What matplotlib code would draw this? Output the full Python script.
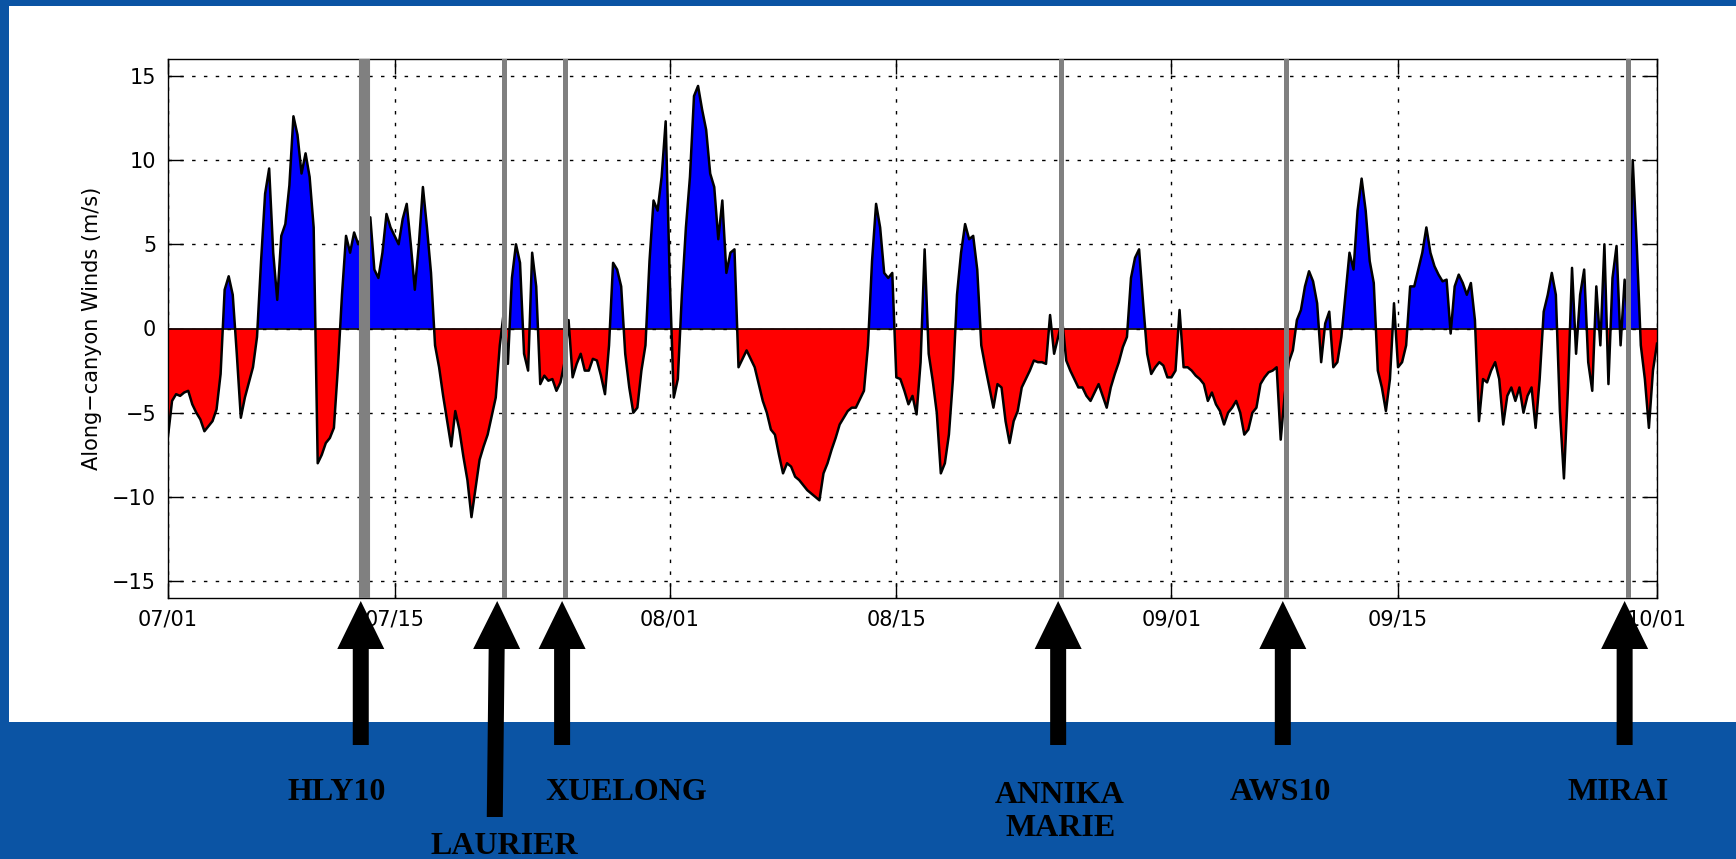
import matplotlib.pyplot as plt
import matplotlib.transforms as mtransforms
from matplotlib.patches import Polygon, Rectangle
import numpy as np

plt.rc('font', family='DejaVu Sans', size=15)

# along-canyon wind (m/s), 4 samples a day, 07/01 00:00 -> 10/01 00:00
wind = [
    -6.4, -4.3, -3.9, -4.0,
    -3.8, -3.7, -4.5, -5.0,
    -5.4, -6.1, -5.8, -5.5,
    -4.8, -2.7, 2.3, 3.1,
    2.0, -1.5, -5.3, -4.1,
    -3.2, -2.3, -0.5, 4.0,
    8.0, 9.5, 4.5, 1.7,
    5.5, 6.2, 8.5, 12.6,
    11.5, 9.2, 10.4, 9.0,
    6.0, -8.0, -7.5, -6.8,
    -6.5, -5.9, -2.3, 2.0,
    5.5, 4.5, 5.7, 5.0,
    5.5, 6.0, 6.6, 3.5,
    3.0, 4.5, 6.8, 6.0,
    5.5, 5.0, 6.5, 7.4,
    5.0, 2.3, 5.0, 8.4,
    6.0, 3.3, -1.0, -2.3,
    -4.0, -5.5, -7.0, -4.9,
    -6.0, -7.6, -9.0, -11.2,
    -9.5, -7.8, -7.0, -6.3,
    -5.2, -4.1, -1.0, 1.0,
    -2.1, 3.0, 5.0, 3.9,
    -1.5, -2.5, 4.5, 2.5,
    -3.3, -2.8, -3.1, -3.0,
    -3.7, -3.2, -2.0, 0.5,
    -2.9, -2.1, -1.5, -2.5,
    -2.5, -1.8, -1.9, -2.8,
    -3.9, -1.0, 3.9, 3.5,
    2.5, -1.5, -3.5, -5.0,
    -4.7, -2.5, -1.0, 4.0,
    7.6, 7.0, 9.0, 12.3,
    3.0, -4.1, -3.0, 2.0,
    6.0, 9.0, 13.8, 14.4,
    13.0, 11.8, 9.2, 8.4,
    5.3, 7.6, 3.3, 4.5,
    4.7, -2.3, -1.8, -1.3,
    -1.8, -2.3, -3.3, -4.3,
    -5.0, -6.0, -6.3, -7.5,
    -8.6, -8.0, -8.2, -8.8,
    -9.0, -9.3, -9.6, -9.8,
    -10.0, -10.2, -8.6, -8.0,
    -7.2, -6.5, -5.7, -5.3,
    -4.9, -4.7, -4.7, -4.2,
    -3.7, -1.0, 4.0, 7.4,
    6.0, 3.3, 3.0, 3.3,
    -2.9, -3.0, -3.7, -4.5,
    -4.0, -5.1, -2.0, 4.7,
    -1.5, -3.1, -5.0, -8.6,
    -8.0, -6.3, -3.0, 2.0,
    4.5, 6.2, 5.3, 5.5,
    3.5, -1.0, -2.3, -3.5,
    -4.7, -3.3, -3.5, -5.5,
    -6.8, -5.5, -4.9, -3.5,
    -3.0, -2.5, -1.9, -2.0,
    -2.0, -2.1, 0.8, -1.5,
    -0.5, 0.5, -1.9, -2.5,
    -3.0, -3.5, -3.5, -4.0,
    -4.3, -3.8, -3.3, -4.0,
    -4.7, -3.5, -2.7, -2.0,
    -1.1, -0.5, 3.0, 4.2,
    4.7, 1.5, -1.5, -2.7,
    -2.3, -2.0, -2.2, -2.9,
    -2.9, -2.5, 1.1, -2.3,
    -2.3, -2.5, -2.8, -3.0,
    -3.3, -4.3, -3.8, -4.5,
    -4.9, -5.7, -5.0, -4.7,
    -4.3, -5.0, -6.3, -6.0,
    -5.0, -4.7, -3.3, -2.9,
    -2.6, -2.5, -2.3, -6.6,
    -3.9, -2.0, -1.3, 0.5,
    1.1, 2.5, 3.4, 2.8,
    1.5, -2.0, 0.3, 1.0,
    -2.3, -2.0, -0.5, 2.0,
    4.5, 3.5, 7.0, 8.9,
    7.0, 4.0, 2.7, -2.5,
    -3.5, -4.9, -3.0, 1.5,
    -2.3, -2.0, -1.0, 2.5,
    2.5, 3.5, 4.5, 6.0,
    4.5, 3.7, 3.2, 2.8,
    2.9, -0.3, 2.5, 3.2,
    2.7, 2.0, 2.7, 0.5,
    -5.5, -3.0, -3.2, -2.5,
    -2.0, -3.0, -5.7, -4.0,
    -3.5, -4.3, -3.5, -5.0,
    -4.0, -3.5, -5.9, -3.0,
    1.0, 2.0, 3.3, 2.0,
    -4.9, -8.9, -3.5, 3.6,
    -1.5, 2.0, 3.5, -2.0,
    -3.7, 2.5, -1.0, 5.0,
    -3.3, 3.0, 4.9, -1.0,
    2.9, 0.0, 10.0, 4.9,
    -1.0, -3.0, -5.9, -2.5,
    -0.9,
]
step_days = 0.25

tick_days = [0, 14, 31, 45, 62, 76, 92]
tick_labels = ['07/01', '07/15', '08/01', '08/15', '09/01', '09/15', '10/01']
y_ticks = [-15, -10, -5, 0, 5, 10, 15]

# ship arrival times (days since 07/01)
ship_names = ['HLY10', 'LAURIER', 'XUELONG', 'ANNIKA\nMARIE', 'AWS10', 'MIRAI']
ship_days = [12.11, 20.74, 24.55, 55.2, 69.08, 90.2]

BLUE_BG = '#0b54a4'
W, H = 1736, 859


def draw_winds():
    fig = plt.figure(figsize=(W / 100, H / 100), dpi=100)
    fig.patch.set_facecolor(BLUE_BG)

    # white slide panel
    fig.add_artist(Rectangle((9 / W, 1 - 722 / H), 1 - 9 / W, (722 - 6) / H,
                             transform=fig.transFigure, facecolor='white',
                             edgecolor='none', zorder=-5))

    ax = fig.add_axes([168 / W, 1 - 598 / H, 1489 / W, 539 / H])
    ax.set_facecolor('white')

    t = np.arange(len(wind)) * step_days
    w = np.array(wind)
    ax.fill_between(t, w, 0, where=w >= 0, interpolate=True, color='#0000ff', lw=0, zorder=2)
    ax.fill_between(t, w, 0, where=w <= 0, interpolate=True, color='#ff0000', lw=0, zorder=2)
    ax.plot(t, w, color='black', lw=1.8, zorder=3)
    ax.axhline(0, color='black', lw=1.2, zorder=3)

    # ship lines
    for name, d in zip(ship_names, ship_days):
        lw = 8 if name == 'HLY10' else 3.6
        ax.axvline(d, color='#808080', lw=lw, zorder=4)

    ax.set_xlim(0, 92)
    ax.set_ylim(-16, 16)
    ax.set_xticks(tick_days)
    ax.set_xticklabels(tick_labels)
    ax.set_yticks(y_ticks)
    ax.grid(True, color='black', linestyle=(0, (2.5, 6)), linewidth=1.0)
    ax.set_axisbelow(True)
    ax.tick_params(direction='in', length=10.5, width=1, top=True, right=True,
                   pad=8.5, labelsize=15)
    for sp in ax.spines.values():
        sp.set_linewidth(1.0)
    ax.set_ylabel('Along\u2212canyon Winds (m/s)', fontsize=15)
    ax.yaxis.set_label_coords(-0.044, 0.5)

    # arrows below the axis pointing at each ship line
    blend = mtransforms.blended_transform_factory(ax.transData, fig.transFigure)
    px_per_day = 1489 / 92
    head_hw = 23.5 / px_per_day
    shaft_hw = 8 / px_per_day
    y_tip, y_head, y_end = 1 - 601 / H, 1 - 649 / H, 1 - 745 / H
    for name, d in zip(ship_names, ship_days):
        xt = d - 0.2
        xb = xt
        yb = y_end
        if name == 'LAURIER':
            xt = d - 0.4
            xb = d - 0.55
            yb = 1 - 817 / H
        xh = xt + (xb - xt) * (y_tip - y_head) / (y_tip - yb)
        verts = [(xt, y_tip), (xh + head_hw, y_head), (xh + shaft_hw, y_head),
                 (xb + shaft_hw, yb), (xb - shaft_hw, yb), (xh - shaft_hw, y_head),
                 (xh - head_hw, y_head)]
        ax.add_patch(Polygon(verts, closed=True, transform=blend, facecolor='black',
                             edgecolor='none', clip_on=False, zorder=6))

    # ship names
    label_dx = {'HLY10': -24, 'LAURIER': 4, 'XUELONG': 64, 'ANNIKA\nMARIE': 2,
                'AWS10': -2, 'MIRAI': -6}
    label_y = {'LAURIER': 1 - 846 / H, 'ANNIKA\nMARIE': 1 - 812 / H}
    for name, d in zip(ship_names, ship_days):
        tr = mtransforms.offset_copy(blend, fig=fig, x=label_dx[name], y=0, units='dots')
        ax.text(d - 0.2, label_y.get(name, 1 - 792 / H), name, transform=tr,
                ha='center', va='center', fontsize=23, fontweight='bold',
                family='Liberation Serif', linespacing=1.2, clip_on=False)

    fig.savefig('out.png', dpi=100, facecolor=fig.get_facecolor())


draw_winds()
